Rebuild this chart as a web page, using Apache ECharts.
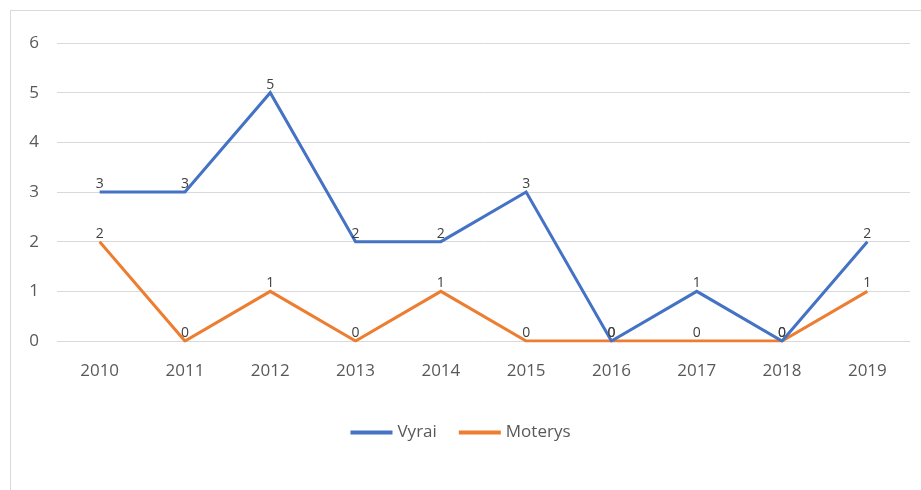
<!DOCTYPE html>
<html>
<head>
<meta charset="utf-8">
<script src="https://cdn.jsdelivr.net/npm/echarts@6/dist/echarts.min.js"></script>
<style>
  html, body { margin: 0; padding: 0; background: #fff; }
  #frame {
    position: absolute; left: 10px; top: 10px; width: 930px; height: 500px;
    border-left: 1px solid #d9d9d9; border-top: 1px solid #d9d9d9;
  }
  #chart { position: absolute; left: 0; top: 0; width: 921px; height: 490px; }
</style>
</head>
<body>
<div id="frame"></div>
<div id="chart"></div>
<script>
const years = ["2010", "2011", "2012", "2013", "2014", "2015", "2016", "2017", "2018", "2019"];
const vyrai = [3, 3, 5, 2, 2, 3, 0, 1, 0, 2];
const moterys = [2, 0, 1, 0, 1, 0, 0, 0, 0, 1];

const chart = echarts.init(document.getElementById("chart"));

function lineSeries(name, data, color, z) {
    return {
        name: name,
        type: "line",
        data: data,
        z: z,
        symbol: "circle",
        symbolSize: 0.1,
        showSymbol: true,
        lineStyle: { color: color, width: 3, join: "miter" },
        itemStyle: { color: color },
        label: {
            show: true,
            position: "top",
            distance: 1,
            color: "#404040",
            fontSize: 14,
            fontFamily: "Open Sans",
        },
        animation: false,
    };
}

chart.setOption({
    backgroundColor: "transparent",
    grid: { left: 57, right: 11, top: 43, bottom: 149 },
    legend: {
        data: ["Vyrai", "Moterys"],
        bottom: 44,
        left: "center",
        itemWidth: 42,
        itemHeight: 4,
        itemGap: 22,
        icon: "rect",
        textStyle: { color: "#595959", fontSize: 17, fontFamily: "Open Sans" },
    },
    xAxis: {
        type: "category",
        data: years,
        boundaryGap: true,
        axisLine: { show: false },
        axisTick: { show: false },
        axisLabel: { color: "#595959", fontSize: 17, fontFamily: "Open Sans", margin: 22 },
    },
    yAxis: {
        type: "value",
        min: 0,
        max: 6,
        interval: 1,
        axisLabel: { color: "#595959", fontSize: 17, fontFamily: "Open Sans", margin: 18 },
        splitLine: { lineStyle: { color: "#d9d9d9", width: 1 } },
    },
    series: [
        lineSeries("Vyrai", vyrai, "#4472C4", 3),
        lineSeries("Moterys", moterys, "#ED7D31", 2),
    ],
});
</script>
</body>
</html>
